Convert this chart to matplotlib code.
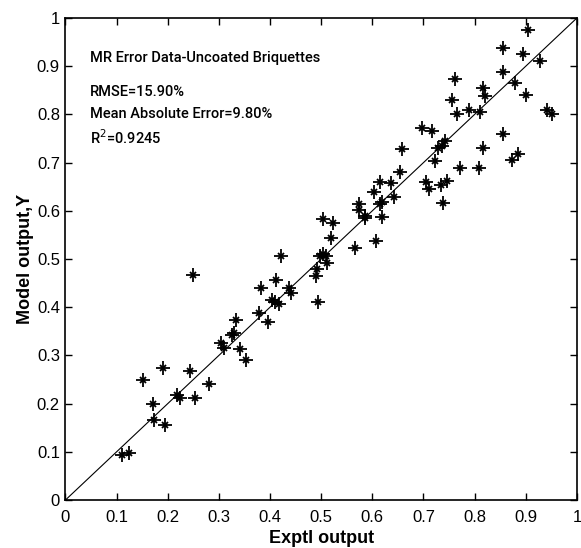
import matplotlib
matplotlib.use("Agg")
import matplotlib.pyplot as plt

plt.rcParams['font.family'] = ['Liberation Sans', 'DejaVu Sans']

# experimental output (x) and model output (y)
exptl = [0.110, 0.125, 0.151, 0.172, 0.174, 0.190, 0.195, 0.219, 0.224, 0.243,
         0.250, 0.253, 0.281, 0.304, 0.310, 0.325, 0.329, 0.333, 0.341, 0.352,
         0.379, 0.382, 0.395, 0.403, 0.410, 0.411, 0.418, 0.421, 0.437, 0.441,
         0.490, 0.491, 0.494, 0.497, 0.503, 0.510, 0.512, 0.503, 0.524, 0.520,
         0.566, 0.574, 0.574, 0.586, 0.585, 0.607, 0.604, 0.615, 0.636, 0.614,
         0.618, 0.618, 0.643, 0.654, 0.657,
         0.705, 0.711, 0.723, 0.734, 0.745, 0.739, 0.698, 0.716, 0.742, 0.737,
         0.729, 0.762, 0.755, 0.765, 0.789, 0.810, 0.816, 0.820, 0.771, 0.808,
         0.817, 0.855, 0.874, 0.885, 0.855, 0.855, 0.879, 0.894, 0.904, 0.928,
         0.900, 0.941, 0.951]
model = [0.094, 0.097, 0.249, 0.200, 0.165, 0.273, 0.156, 0.217, 0.211, 0.267,
         0.466, 0.211, 0.240, 0.326, 0.315, 0.343, 0.347, 0.374, 0.314, 0.290,
         0.387, 0.440, 0.369, 0.414, 0.411, 0.457, 0.407, 0.506, 0.440, 0.430,
         0.465, 0.480, 0.410, 0.506, 0.510, 0.506, 0.492, 0.583, 0.574, 0.543,
         0.522, 0.615, 0.602, 0.590, 0.585, 0.537, 0.638, 0.659, 0.657, 0.615,
         0.619, 0.587, 0.628, 0.680, 0.728,
         0.659, 0.645, 0.703, 0.654, 0.661, 0.616, 0.771, 0.765, 0.744, 0.734,
         0.730, 0.874, 0.829, 0.801, 0.810, 0.804, 0.854, 0.838, 0.689, 0.689,
         0.730, 0.760, 0.706, 0.718, 0.938, 0.888, 0.865, 0.926, 0.975, 0.911,
         0.841, 0.810, 0.800]

fig = plt.figure(figsize=(5.81, 5.48), dpi=100)
ax = fig.add_axes([0.1127, 0.0876, 0.8803, 0.8796])

ax.plot([0, 1], [0, 1], color='black', lw=0.8)
# matlab style '*' marker = plus + cross
ax.plot(exptl, model, linestyle='none', marker='+', ms=10, mew=1.3, color='black')
ax.plot(exptl, model, linestyle='none', marker='x', ms=5, mew=1.3, color='black')

ax.set_xlim(0, 1)
ax.set_ylim(0, 1)
ticks = [0, 0.1, 0.2, 0.3, 0.4, 0.5, 0.6, 0.7, 0.8, 0.9, 1]
labels = ['0', '0.1', '0.2', '0.3', '0.4', '0.5', '0.6', '0.7', '0.8', '0.9', '1']
ax.set_xticks(ticks)
ax.set_xticklabels(labels)
ax.set_yticks(ticks)
ax.set_yticklabels(labels)
ax.tick_params(direction='in', top=True, right=True, length=5, width=1,
               labelsize=12, pad=4)
ax.tick_params(axis='x', pad=7)
for s in ax.spines.values():
    s.set_linewidth(1.2)

ax.set_xlabel('Exptl output', fontsize=13, fontweight='bold', labelpad=4)
ax.set_ylabel('Model output,Y', fontsize=13, fontweight='bold', labelpad=2)

txt = dict(fontsize=10.5, va='center', family=['Roboto', 'DejaVu Sans'], fontweight='medium')
ax.text(0.048, 0.917, 'MR Error Data-Uncoated Briquettes', **txt)
ax.text(0.048, 0.846, 'RMSE=15.90%', **txt)
ax.text(0.048, 0.800, 'Mean Absolute Error=9.80%', **txt)
ax.text(0.048, 0.752, r'R$^2$=0.9245', **txt)

fig.savefig('out.png', dpi=100)
